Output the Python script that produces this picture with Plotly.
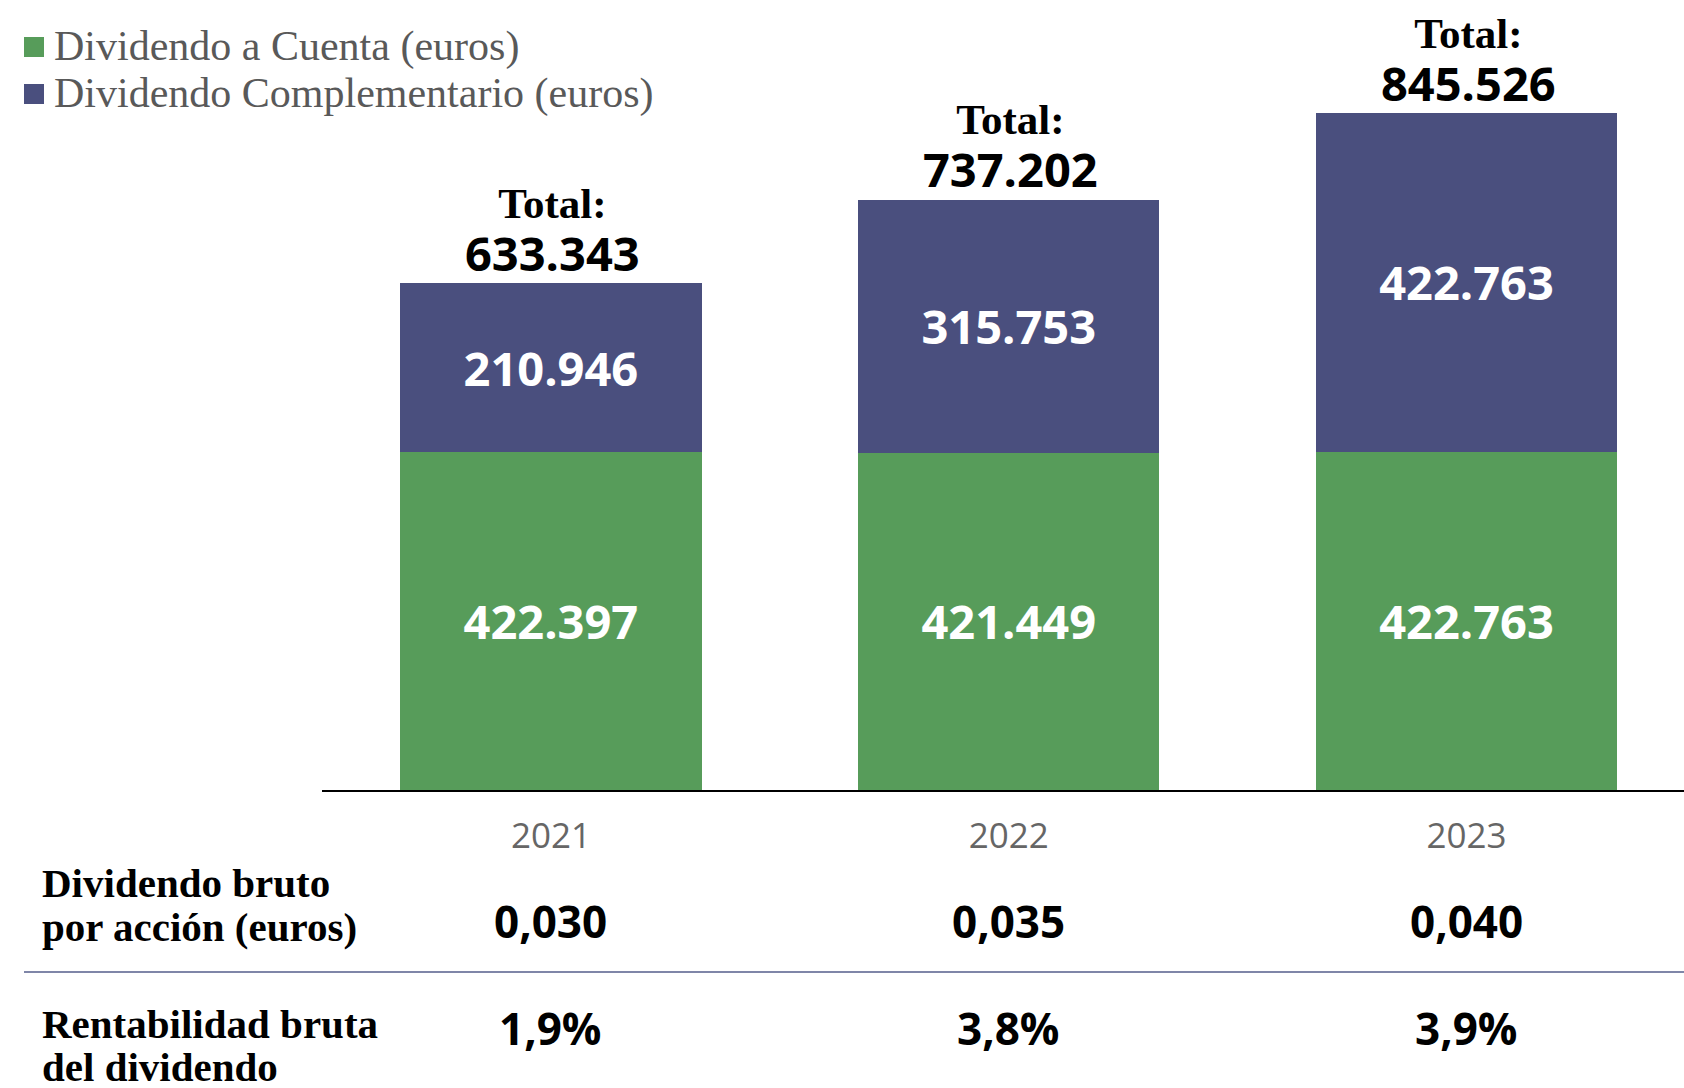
import plotly.graph_objects as go

# ---------------- data ----------------
years = ["2021", "2022", "2023"]
dividendo_cuenta = [422397, 421449, 422763]
dividendo_complementario = [210946, 315753, 422763]
totales = [633343, 737202, 845526]
dividendo_por_accion = ["0,030", "0,035", "0,040"]
rentabilidad = ["1,9%", "3,8%", "3,9%"]

serie_cuenta = "Dividendo a Cuenta (euros)"
serie_compl = "Dividendo Complementario (euros)"
fila1 = ["Dividendo bruto", "por acción (euros)"]
fila2 = ["Rentabilidad bruta", "del dividendo"]

# ---------------- styles ----------------
GREEN = "#579C5A"
NAVY = "#4A4F7E"
SANS = "Open Sans"
SERIF = "Liberation Serif"

W, H = 1684, 1088
ML, MR, MT, MB = 322, 0, 0, 298
PW, PH = W - ML - MR, H - MT - MB


def px(x):
    return (x - ML) / PW


def py(y):
    return (H - MB - y) / PH


def fmt(v):
    return f"{v:,}".replace(",", ".")


fig = go.Figure()
fig.add_bar(
    x=years, y=dividendo_cuenta, name=serie_cuenta, marker_color=GREEN,
    marker_line_width=0, width=0.658,
    texttemplate="%{y:,d}", textposition="inside", insidetextanchor="middle",
    textfont=dict(family=SANS, size=47, color="white", weight="bold"),
    constraintext="none",
)
fig.add_bar(
    x=years, y=dividendo_complementario, name=serie_compl, marker_color=NAVY,
    marker_line_width=0, width=0.658,
    texttemplate="%{y:,d}", textposition="inside", insidetextanchor="middle",
    textfont=dict(family=SANS, size=47, color="white", weight="bold"),
    constraintext="none",
)

ann = []
# totals above bars (x given as category index); one two-line annotation each
for i, t in enumerate(totales):
    txt = (f"<span style='font-family:{SERIF};font-size:43px;font-weight:bold'>Total:</span>"
           f"<br><span style='font-family:{SANS};font-size:47px;font-weight:bold'>{fmt(t)}</span>")
    ann.append(dict(x=i, y=t, xref="x", yref="y", text=txt, showarrow=False,
                    yanchor="middle", yshift=51, xshift=2, align="center",
                    font=dict(family=SANS, size=41, color="black")))

# legend (custom)
legend_items = [(serie_cuenta, GREEN, 47), (serie_compl, NAVY, 94)]
shapes = []
for name, col, yc in legend_items:
    shapes.append(dict(type="rect", xref="paper", yref="paper",
                       x0=px(24), x1=px(44), y0=py(yc + 10), y1=py(yc - 10),
                       fillcolor=col, line_width=0))
    ann.append(dict(x=px(52), y=py(yc), xref="paper", yref="paper", text=name,
                    showarrow=False, xanchor="left", yanchor="middle",
                    font=dict(family=SERIF, size=42, color="#595959")))

# table below chart
for i, line in enumerate(fila1):
    ann.append(dict(x=px(40), y=py(883 + 44 * i), xref="paper", yref="paper", text=line,
                    showarrow=False, xanchor="left", yanchor="middle",
                    font=dict(family=SERIF, size=41, color="black", weight="bold")))
for i, line in enumerate(fila2):
    ann.append(dict(x=px(40), y=py(1024 + 43 * i), xref="paper", yref="paper", text=line,
                    showarrow=False, xanchor="left", yanchor="middle",
                    font=dict(family=SERIF, size=41, color="black", weight="bold")))
for i, (d, r) in enumerate(zip(dividendo_por_accion, rentabilidad)):
    ann.append(dict(x=i, y=py(921), xref="x", yref="paper", text=d, showarrow=False,
                    yanchor="middle", font=dict(family=SANS, size=44, color="black", weight="bold")))
    ann.append(dict(x=i, y=py(1028), xref="x", yref="paper", text=r, showarrow=False,
                    yanchor="middle", font=dict(family=SANS, size=44, color="black", weight="bold")))

shapes.append(dict(type="line", xref="paper", yref="paper", x0=px(24), x1=1,
                   y0=py(972), y1=py(972), line=dict(color="#7F86A8", width=2)))

fig.update_layout(
    width=W, height=H,
    margin=dict(l=ML, r=MR, t=MT, b=MB, pad=0),
    barmode="stack",
    separators=",.",
    plot_bgcolor="white", paper_bgcolor="white",
    showlegend=False,
    annotations=ann,
    shapes=shapes,
    uniformtext=dict(mode=False),
)
fig.update_xaxes(
    type="category", range=[-0.5, 2.475],
    showline=True, linecolor="black", linewidth=2,
    showgrid=False, ticks="", ticklabelstandoff=14,
    tickfont=dict(family=SANS, size=35, color="#666666"),
)
fig.update_yaxes(range=[0, 987090], visible=False, showgrid=False)

fig.write_html("out.html", config={"displayModeBar": False},
               post_script="document.body.style.margin='0px';")
